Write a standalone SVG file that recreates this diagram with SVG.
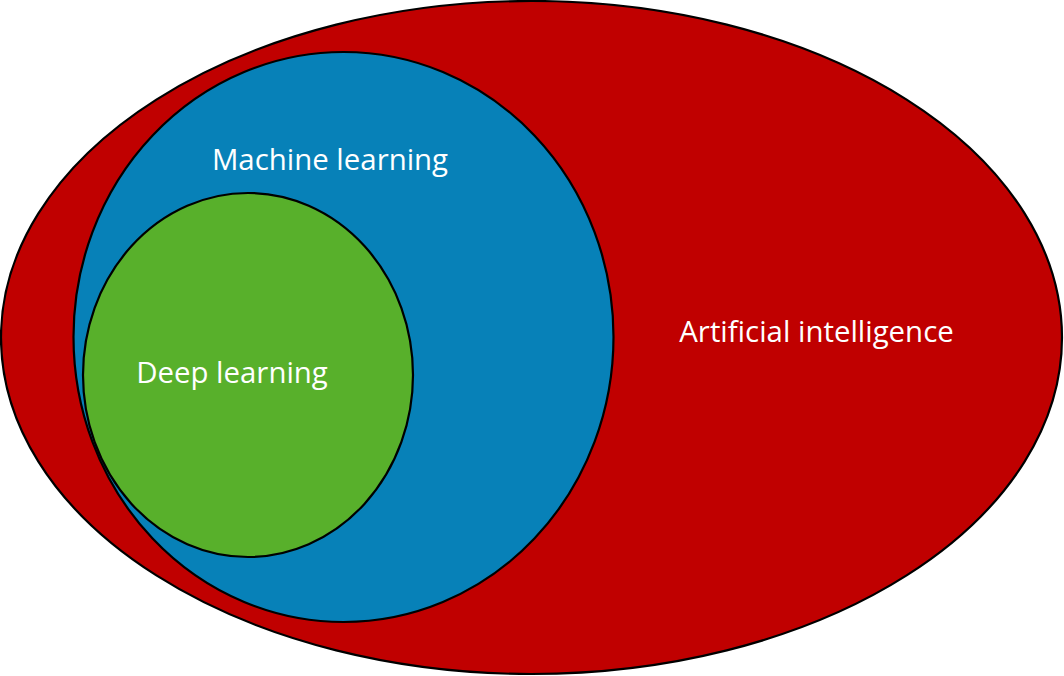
<svg xmlns="http://www.w3.org/2000/svg" width="1064" height="676" viewBox="0 0 1064 676">
<style>
.shape{stroke:#000;stroke-width:2.2}
.lbl{font-family:"Open Sans","Liberation Sans",sans-serif;fill:#fff;text-anchor:middle;font-size:29.4px}
</style>
<rect width="1064" height="676" fill="#fff"/>
<g id="ai">
<ellipse class="shape" cx="531.5" cy="337.5" rx="530.5" ry="336.5" fill="#C00000"/>
<text class="lbl" x="816.5" y="342">Artificial intelligence</text>
</g>
<g id="ml">
<ellipse class="shape" cx="343.5" cy="337" rx="270" ry="285" fill="#0781B8"/>
<text class="lbl" x="330" y="170">Machine learning</text>
</g>
<g id="dl">
<ellipse class="shape" cx="248" cy="375" rx="165" ry="182" fill="#58B02B"/>
<text class="lbl" x="232" y="383">Deep learning</text>
</g>
<g id="connectors"/>
</svg>
